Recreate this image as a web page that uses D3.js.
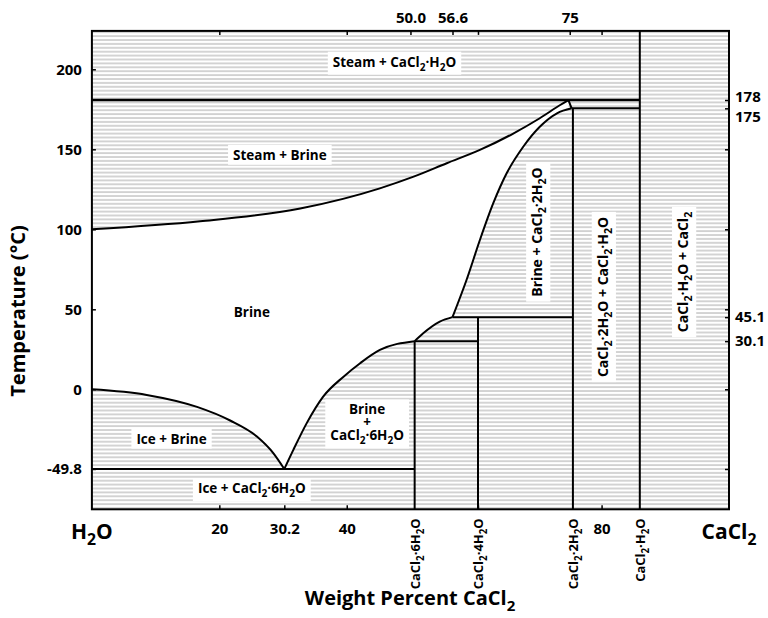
<!DOCTYPE html>
<html>
<head>
<meta charset="utf-8">
<script src="https://cdn.jsdelivr.net/npm/d3@7"></script>
<style>
body { margin: 0; background: #fff; }
text { font-family: "Open Sans", sans-serif; font-weight: 700; }
</style>
</head>
<body>
<script>
// CaCl2 - H2O phase diagram

// axis ticks
var leftTicks = [200, 150, 100, 50, 0, -49.8];
var rightTicks = [180.8, 175.6, 150, 100, 50, 45.1, 30.1, 0, -49.8];
var rightLabelT = [180.8, 175.6, 45.1, 30.1];
var rightLabelText = ["178", "175", "45.1", "30.1"];
var topTicks = [20, 40, 50, 56.6, 60.6, 75, 80];
var topLabelText = ["", "", "50.0", "56.6", "", "75", ""];
var bottomTicks = [20, 30.2, 40, 60.6, 80];
var bottomLabels = [20, 30.2, 40, 80];

// hydrate compositions (wt% CaCl2)
var hydrateW = [50.66, 60.6, 75.5, 86.0];
var hydrateNames = ["CaCl_2·6H_2O", "CaCl_2·4H_2O", "CaCl_2·2H_2O", "CaCl_2·H_2O"];
var hydrateTopT = [30.1, 45.1, 175.6, 224];

// boiling curve (steam + brine)
var steamW = [0, 17, 32.7, 45.2, 50.5, 55.7, 60.9, 66.2, 70.3, 73.5, 74.8];
var steamT = [100, 105, 113, 125.6, 132.9, 141.3, 149.6, 160, 169.4, 177.7, 180.8];
// ice liquidus
var iceW = [0, 8.6, 16.5, 21.7, 25.9, 28.5, 30.2];
var iceT = [0, -3.5, -11, -19.5, -29.5, -40, -49.8];
// hexahydrate liquidus
var hexaW = [30.2, 31.6, 33.7, 36.3, 39.5, 42.1, 45.2, 50.66];
var hexaT = [-49.8, -38, -21.3, -4.6, 7.9, 16.3, 24.6, 30.1];
// tetrahydrate liquidus
var tetraW = [50.66, 52, 54.6, 56.6];
var tetraT = [30.1, 35, 42.3, 45.1];
// dihydrate liquidus
var diW = [56.6, 58.8, 60.9, 63, 65.1, 67.7, 70.3, 73, 75.3];
var diT = [45.1, 68.3, 93.3, 116.3, 135, 151.6, 164.1, 172.5, 175.6];

// invariant lines [w0, w1, T]
var isoW0 = [0, 75.3, 56.6, 50.66, 0];
var isoW1 = [86, 86, 75.5, 60.6, 50.66];
var isoT = [180.8, 175.6, 45.1, 30.1, -49.8];

// region labels
var regionText = ["Steam + CaCl_2·H_2O", "Steam + Brine", "Ice + Brine", "Ice + CaCl_2·6H_2O"];
var regionW = [47.5, 29.5, 12.5, 25.1];
var regionT = [204.6, 146.4, -31, -61.9];
var rotText = ["Brine + CaCl_2·2H_2O", "CaCl_2·2H_2O + CaCl_2·H_2O", "CaCl_2·H_2O + CaCl_2"];
var rotW = [69.9, 80.2, 92.8];
var rotT = [98.3, 57.7, 73.3];

var width = 768, height = 618;
var svg = d3.select("body").append("svg")
  .attr("width", width)
  .attr("height", height);

var x = d3.scaleLinear().domain([0, 100]).range([91.9, 729]);
var y = d3.scaleLinear().domain([-75, 224]).range([509.3, 30.9]);

// hatch pattern
var defs = svg.append("defs");
var pat = defs.append("pattern")
  .attr("id", "hatch")
  .attr("patternUnits", "userSpaceOnUse")
  .attr("width", 20)
  .attr("height", 3.9);
pat.append("rect").attr("width", 20).attr("height", 3.9).attr("fill", "#fff");
pat.append("line")
  .attr("x1", 0).attr("x2", 20)
  .attr("y1", 1).attr("y2", 1)
  .attr("stroke", "#b2b2b2")
  .attr("stroke-width", 1.1);

function pts(ws, ts) {
  return ws.map(function (w, i) { return [w, ts[i]]; });
}
var line = d3.line()
  .x(function (d) { return x(d[0]); })
  .y(function (d) { return y(d[1]); })
  .curve(d3.curveMonotoneX);

var steamPath = line(pts(steamW, steamT));
var icePath = line(pts(iceW, iceT));
var hexaPath = line(pts(hexaW, hexaT));
var tetraPath = line(pts(tetraW, tetraT));
var diPath = line(pts(diW, diT));

// background hatch
svg.append("rect")
  .attr("x", x(0)).attr("y", y(224))
  .attr("width", x(100) - x(0)).attr("height", y(-75) - y(224))
  .attr("fill", "url(#hatch)");

// brine: white under the steam curve
svg.append("path")
  .attr("d", steamPath + "L" + x(74.8) + "," + y(-75) + "L" + x(0) + "," + y(-75) + "Z")
  .attr("fill", "#fff");

// hatch again below the liquidus
svg.append("path")
  .attr("d", icePath + hexaPath.replace(/^M/, "L") + tetraPath.replace(/^M/, "L") +
    diPath.replace(/^M/, "L") + "L" + x(100) + "," + y(175.6) +
    "L" + x(100) + "," + y(-75) + "L" + x(0) + "," + y(-75) + "Z")
  .attr("fill", "url(#hatch)");

// curves
[steamPath, icePath, hexaPath, tetraPath, diPath].forEach(function (p) {
  svg.append("path").attr("d", p)
    .attr("fill", "none").attr("stroke", "#000").attr("stroke-width", 2);
});
svg.append("line")
  .attr("x1", x(74.8)).attr("y1", y(180.8))
  .attr("x2", x(75.3)).attr("y2", y(175.6))
  .attr("stroke", "#000").attr("stroke-width", 2);

// invariant lines
svg.selectAll(".iso").data(isoT).enter().append("line")
  .attr("class", "iso")
  .attr("x1", function (d, i) { return x(isoW0[i]); })
  .attr("x2", function (d, i) { return x(isoW1[i]); })
  .attr("y1", function (d) { return y(d); })
  .attr("y2", function (d) { return y(d); })
  .attr("stroke", "#000")
  .attr("stroke-width", function (d, i) { return i == 0 ? 2.6 : 2; });

// hydrate lines
svg.selectAll(".hyd").data(hydrateW).enter().append("line")
  .attr("class", "hyd")
  .attr("x1", function (d) { return x(d); })
  .attr("x2", function (d) { return x(d); })
  .attr("y1", y(-75))
  .attr("y2", function (d, i) { return y(hydrateTopT[i]); })
  .attr("stroke", "#000").attr("stroke-width", 2);

// text with subscripts: "_2" -> subscript 2
function rich(t, str, fs) {
  var parts = str.split(/(_\d)/);
  var shift = 0;
  parts.forEach(function (p) {
    if (p === "") return;
    if (p[0] === "_") {
      t.append("tspan").attr("dy", fs * 0.3).attr("font-size", fs * 0.75).text(p.slice(1));
      shift = 1;
    } else {
      var ts = t.append("tspan").text(p);
      if (shift) { ts.attr("dy", -fs * 0.3); shift = 0; }
    }
  });
  return t;
}

// axes
var tickFs = 15;
var gl = svg.append("g")
  .attr("transform", "translate(" + x(0) + ",0)")
  .call(d3.axisLeft(y).tickValues(leftTicks).tickSize(-4).tickPadding(10)
    .tickFormat(function (d) { return String(d); }));
var gr = svg.append("g")
  .attr("transform", "translate(" + x(100) + ",0)")
  .call(d3.axisRight(y).tickValues(rightTicks).tickSize(-4).tickFormat(""));
var gt = svg.append("g")
  .attr("transform", "translate(0," + y(224) + ")")
  .call(d3.axisTop(x).tickValues(topTicks).tickSize(-4).tickPadding(8)
    .tickFormat(function (d, i) { return topLabelText[i]; }));
var gb = svg.append("g")
  .attr("transform", "translate(0," + y(-75) + ")")
  .call(d3.axisBottom(x).tickValues(bottomTicks).tickSize(-4).tickPadding(14)
    .tickFormat(function (d) { return bottomLabels.indexOf(d) >= 0 ? String(d) : ""; }));
[gl, gr, gt, gb].forEach(function (g) {
  g.select(".domain").remove();
  g.selectAll(".tick line").attr("stroke", "#000").attr("stroke-width", 1.5);
  g.selectAll(".tick text")
    .attr("font-family", "Open Sans").attr("font-weight", 700)
    .attr("font-size", tickFs).attr("fill", "#000");
});

// right labels
svg.selectAll(".rl").data(rightLabelT).enter().append("text")
  .attr("class", "rl")
  .attr("x", x(100) + 6)
  .attr("y", function (d) { return y(d); })
  .attr("dy", function (d, i) { return i == 0 ? "0.15em" : (i == 1 ? "0.9em" : "0.35em"); })
  .attr("font-size", tickFs)
  .text(function (d, i) { return rightLabelText[i]; });

// frame
svg.append("rect")
  .attr("x", x(0)).attr("y", y(224))
  .attr("width", x(100) - x(0)).attr("height", y(-75) - y(224))
  .attr("fill", "none").attr("stroke", "#000").attr("stroke-width", 2);

// labels with white boxes
function boxed(g, padX, padY) {
  var b = g.node().getBBox();
  g.insert("rect", ":first-child")
    .attr("x", b.x - padX).attr("y", b.y - padY)
    .attr("width", b.width + 2 * padX).attr("height", b.height + 2 * padY)
    .attr("fill", "#fff");
}
var labFs = 13.5, rotFs = 14;
regionText.forEach(function (s, i) {
  var g = svg.append("g").attr("transform", "translate(" + x(regionW[i]) + "," + y(regionT[i]) + ")");
  rich(g.append("text").attr("text-anchor", "middle").attr("dy", "0.35em").attr("font-size", labFs), s, labFs);
  boxed(g, 5, 1);
});
rotText.forEach(function (s, i) {
  var g = svg.append("g").attr("transform", "translate(" + x(rotW[i]) + "," + y(rotT[i]) + ") rotate(-90)");
  rich(g.append("text").attr("text-anchor", "middle").attr("dy", "0.35em").attr("font-size", rotFs), s, rotFs);
  boxed(g, 5, 1);
});
// three-line label as one text element
var gbr = svg.append("g").attr("transform", "translate(" + x(43.2) + "," + y(-21) + ")");
var tbr = gbr.append("text").attr("text-anchor", "middle").attr("font-size", labFs);
["Brine", "+", "CaCl_2·6H_2O"].forEach(function (s, i) {
  var ln = tbr.append("tspan").attr("x", 0).attr("y", (i - 1) * 13 + 4.5);
  rich(ln, s, labFs);
});
boxed(gbr, 5, 1);

svg.append("text")
  .attr("x", x(25.1)).attr("y", y(48.3)).attr("dy", "0.35em")
  .attr("text-anchor", "middle").attr("font-size", labFs)
  .text("Brine");

// hydrate names below axis
hydrateNames.forEach(function (s, i) {
  var t = svg.append("text")
    .attr("transform", "translate(" + (x(hydrateW[i]) + 5) + "," + (y(-75) + 9) + ") rotate(-90)")
    .attr("text-anchor", "end")
    .attr("font-size", 13);
  rich(t, s, 13);
});

// end members
rich(svg.append("text").attr("x", x(0)).attr("y", 539).attr("text-anchor", "middle")
  .attr("font-size", 21), "H_2O", 21);
rich(svg.append("text").attr("x", x(100)).attr("y", 539).attr("text-anchor", "middle")
  .attr("font-size", 21), "CaCl_2", 21);

// axis titles
rich(svg.append("text").attr("x", 410).attr("y", 605).attr("text-anchor", "middle")
  .attr("font-size", 20), "Weight Percent CaCl_2", 20);
svg.append("text")
  .attr("transform", "translate(25,311) rotate(-90)")
  .attr("text-anchor", "middle")
  .attr("font-size", 20)
  .text("Temperature (°C)");
</script>
</body>
</html>
